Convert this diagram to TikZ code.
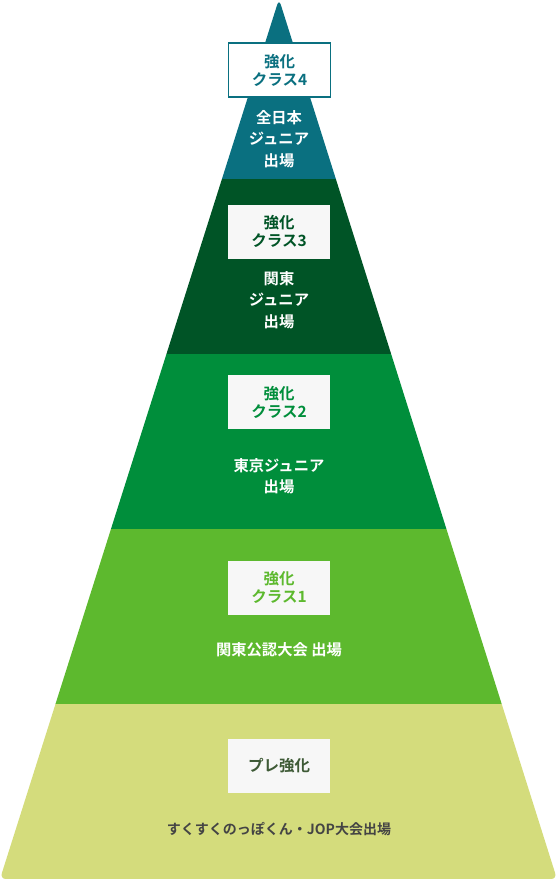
\documentclass[tikz,border=0pt]{standalone}
\usepackage{fontspec}
\setmainfont{Noto Sans CJK JP}[BoldFont={Noto Sans CJK JP Bold}]
\usetikzlibrary{positioning}

\definecolor{lvfour}{HTML}{0A7080}
\definecolor{lvthree}{HTML}{005426}
\definecolor{lvtwo}{HTML}{008E3B}
\definecolor{lvone}{HTML}{5DB92E}
\definecolor{lvpre}{HTML}{D4DC7C}
\definecolor{pretext}{HTML}{3E5A36}
\definecolor{bodygray}{HTML}{444444}

\tikzset{
  classbox/.style={fill=white!97!black, minimum width=102, minimum height=54,
    inner sep=0pt, align=center, font=\fontsize{15.5}{18}\selectfont\bfseries},
  bodytext/.style={text=white, align=center, inner sep=0pt,
    font=\fontsize{15.3}{21.5}\selectfont\bfseries},
}

\begin{document}
\begin{tikzpicture}[x=1pt,y=-1pt]
  \useasboundingbox (0,0) rectangle (557,879);
  \coordinate (apex) at (279,-1);
  \coordinate (baseL) at (0,879);
  \coordinate (baseR) at (557,879);
  % pyramid bands
  \begin{scope}
    \clip[rounded corners=6] (apex) -- (baseR) -- (baseL) -- cycle;
    \fill[lvfour]  (0,-2)  rectangle (557,179);
    \fill[lvthree] (0,179) rectangle (557,354);
    \fill[lvtwo]   (0,354) rectangle (557,529);
    \fill[lvone]   (0,529) rectangle (557,704);
    \fill[lvpre]   (0,704) rectangle (557,880);
  \end{scope}
  % class boxes
  \node[classbox, fill=white, draw=lvfour, line width=1.5, text=lvfour] (cls4) at (279.5,70) {強化\\クラス4};
  \node[classbox, text=lvthree] (cls3) at (279,231.5) {強化\\クラス3};
  \node[classbox, text=lvtwo] (cls2) at (279,402) {強化\\クラス2};
  \node[classbox, text=lvone] (cls1) at (279,587.5) {強化\\クラス1};
  \node[classbox, text=pretext] (clspre) at (279,766) {プレ強化};
  % entries
  \node[bodytext] (ent4) at (279,139) {全日本\\ジュニア\\出場};
  \node[bodytext] (ent3) at (279,300) {関東\\ジュニア\\出場};
  \node[bodytext] (ent2) at (279,476) {東京ジュニア\\出場};
  \node[bodytext] (ent1) at (279,650) {関東公認大会 出場};
  \node[bodytext, text=bodygray, font=\fontsize{14}{18}\selectfont\bfseries] (entpre) at (279,829) {すくすくのっぽくん・JOP大会出場};
\end{tikzpicture}
\end{document}
